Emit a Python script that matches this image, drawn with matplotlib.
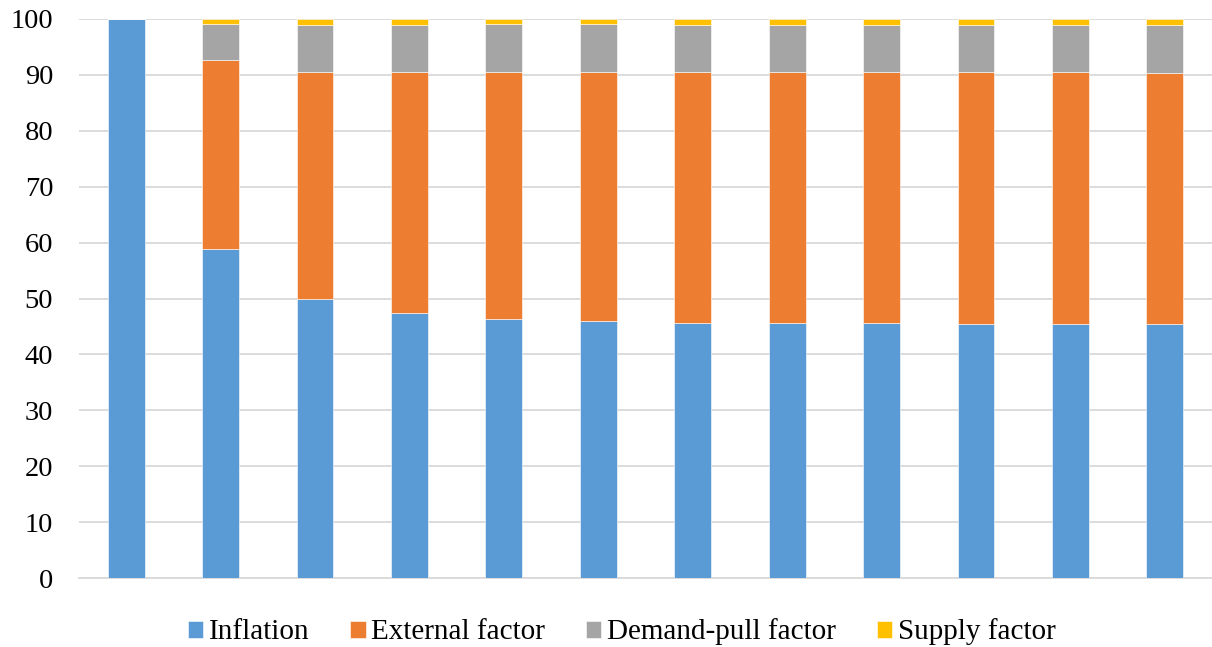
import matplotlib
matplotlib.use("Agg")
import matplotlib.pyplot as plt
import numpy as np

plt.rcParams['font.family'] = ['Liberation Serif', 'DejaVu Serif']

periods = list(range(1, 13))
inflation = [100, 58.8, 49.9, 47.4, 46.3, 46.0, 45.7, 45.6, 45.6, 45.5, 45.4, 45.4]
external = [0, 33.8, 40.7, 43.2, 44.3, 44.6, 44.9, 44.9, 44.9, 45.0, 45.1, 45.0]
demand_pull = [0, 6.5, 8.4, 8.4, 8.45, 8.45, 8.4, 8.4, 8.4, 8.4, 8.4, 8.5]
supply = [0, 0.9, 1.0, 1.0, 0.95, 0.95, 1.0, 1.1, 1.1, 1.1, 1.1, 1.1]

series = [
    ("Inflation", inflation, "#5B9BD5"),
    ("External factor", external, "#ED7D31"),
    ("Demand-pull factor", demand_pull, "#A5A5A5"),
    ("Supply factor", supply, "#FFC000"),
]

fig = plt.figure(figsize=(12.12, 6.47), dpi=100)
ax = fig.add_axes([79 / 1212, 1 - 578 / 647, (1212 - 79) / 1212, (578 - 19) / 647])

x = np.arange(len(periods))
bottom = np.zeros(len(periods))
for name, vals, color in series:
    vals = np.array(vals, dtype=float)
    ax.bar(x, vals, width=0.39, bottom=bottom, color=color, label=name,
           edgecolor="white", linewidth=0.4, zorder=3)
    bottom += vals

ax.set_xlim(-0.5, len(periods) - 0.5)
ax.set_ylim(0, 100)
ax.set_yticks(range(0, 101, 10))
ax.yaxis.grid(True, color="#D9D9D9", linewidth=1.3, zorder=0)
ax.set_axisbelow(True)
ax.set_xticks([])
for side in ["top", "right", "left"]:
    ax.spines[side].set_visible(False)
ax.spines["bottom"].set_color("#D9D9D9")
ax.spines["bottom"].set_linewidth(1.3)
ax.tick_params(axis="y", length=0, labelsize=20.5, pad=18.5)

fig.legend(loc="center", bbox_to_anchor=(0.513, 1 - 632 / 647), ncol=4,
           frameon=False, fontsize=21, handlelength=0.52, handleheight=0.52,
           handletextpad=0.2, columnspacing=1.4)

fig.savefig("out.png", dpi=100)
